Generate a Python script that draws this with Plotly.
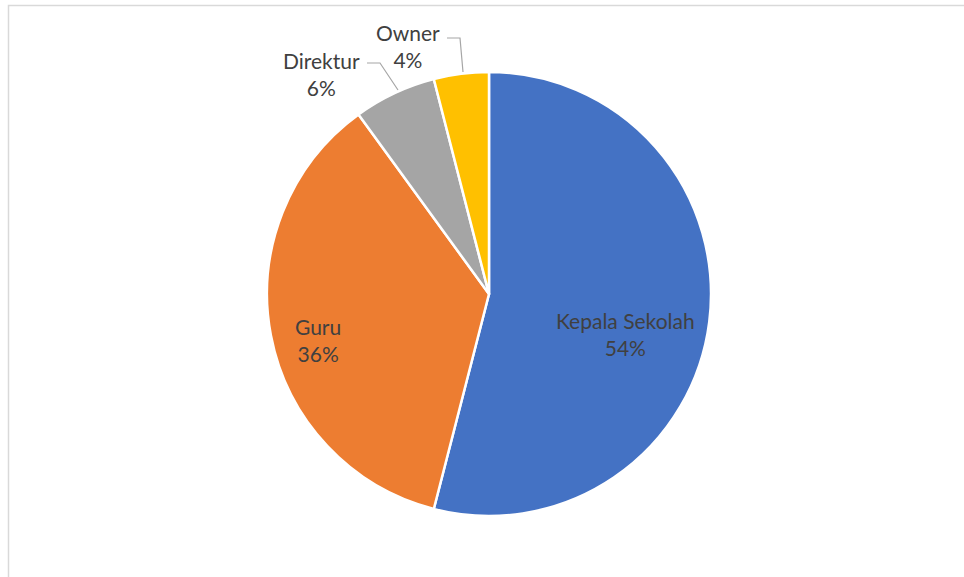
import plotly.graph_objects as go

labels = ["Kepala Sekolah", "Guru", "Direktur", "Owner"]
values = [54, 36, 6, 4]
colors = ["#4472C4", "#ED7D31", "#A5A5A5", "#FFC000"]

W, H = 964, 577
cx, cy, R = 489, 294, 222


def px(x):
    return x / W


def py(y):
    return 1 - y / H


total = sum(values)
texts = [f"{l}<br>{round(v / total * 100)}%" for l, v in zip(labels, values)]

fig = go.Figure(go.Pie(
    labels=labels, values=values, sort=False, direction="clockwise", rotation=0,
    marker=dict(colors=colors, line=dict(color="white", width=2.5)),
    textinfo="none", hoverinfo="label+percent", showlegend=False,
    domain=dict(x=[px(cx - R), px(cx + R)], y=[py(cy + R), py(cy - R)]),
))

# label centres (pixels) as Excel places them
label_pos = [(625, 334), (318, 340), (321, 74), (408, 46)]
for t, (x, y) in zip(texts, label_pos):
    fig.add_annotation(x=px(x), y=py(y), xref="paper", yref="paper", text=t,
                       showarrow=False, font=dict(family="Lato", size=21, color="#404040"),
                       align="center", yanchor="middle", xanchor="center")

# leader lines for the small slices
leaders = [[(367, 63), (380, 63), (398, 90)], [(447, 38), (460, 38), (463, 72)]]
for pts in leaders:
    path = "M " + " L ".join(f"{px(x)},{py(y)}" for x, y in pts)
    fig.add_shape(type="path", path=path, xref="paper", yref="paper",
                  line=dict(color="#A6A6A6", width=1.2))

# chart frame
fig.add_shape(type="rect", xref="paper", yref="paper",
              x0=px(8.5), x1=1.05, y0=-0.05, y1=py(5.5),
              line=dict(color="#D9D9D9", width=1.5))

fig.update_layout(width=W, height=H, margin=dict(l=0, r=0, t=0, b=0),
                  paper_bgcolor="white", plot_bgcolor="white")
fig.write_html("out.html", config={"displayModeBar": False},
               post_script="document.body.style.margin='0';")
